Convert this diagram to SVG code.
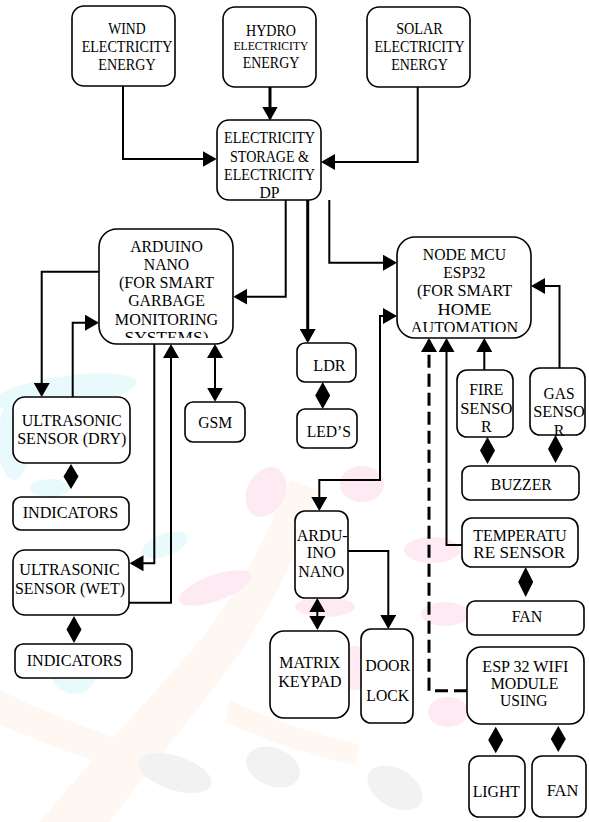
<svg xmlns="http://www.w3.org/2000/svg" width="589" height="822" viewBox="0 0 589 822">
<style>
.box{fill:#fff;stroke:#000;stroke-width:1.6}
.t{font-size:16px;fill:#000;text-anchor:middle}
.c{fill:none;stroke:#000;stroke-width:2}
.k{stroke-width:3}
.d{stroke-dasharray:13 6;stroke-width:3}
.dm{fill:#000}
.wc{fill:#e8fafb}
.wp{fill:#fdeaf2}
.wg{fill:#f2f2f2}
.wo{fill:#fff7f1}
</style>
<defs>
<marker id="ah" viewBox="0 0 14 16" refX="12" refY="8" markerWidth="14" markerHeight="16" markerUnits="userSpaceOnUse" orient="auto"><path d="M0,0 L14,8 L0,16 z" fill="#000"/></marker>
<marker id="as" viewBox="0 0 14 16" refX="12" refY="8" markerWidth="14" markerHeight="16" markerUnits="userSpaceOnUse" orient="auto-start-reverse"><path d="M0,0 L14,8 L0,16 z" fill="#000"/></marker>
<clipPath id="clipA"><rect x="99" y="229" width="134" height="109"/></clipPath>
<clipPath id="clipN"><rect x="397" y="237" width="134" height="95"/></clipPath>
</defs>
<rect width="589" height="822" fill="#fff"/>
<g id="watermark">
<path class="wo" d="M40,822 C90,760 150,700 200,640 C240,590 265,540 290,480 L318,490 C300,550 270,610 235,660 C190,720 140,780 110,822 Z"/>
<path class="wo" d="M0,690 C60,720 120,740 180,760 L175,785 C110,770 50,745 0,725 Z"/>
<path class="wo" d="M230,700 C270,720 320,735 360,745 L355,765 C310,755 265,740 225,722 Z"/>
<ellipse class="wc" cx="65" cy="392" rx="72" ry="16" transform="rotate(-8 65 392)"/>
<ellipse class="wc" cx="14" cy="440" rx="16" ry="40"/>
<ellipse class="wc" cx="50" cy="488" rx="20" ry="9"/>
<ellipse class="wc" cx="165" cy="545" rx="24" ry="11" transform="rotate(-20 165 545)"/>
<ellipse class="wc" cx="74" cy="668" rx="24" ry="26"/>
<ellipse class="wp" cx="266" cy="492" rx="19" ry="26" transform="rotate(25 266 492)"/>
<ellipse class="wp" cx="215" cy="588" rx="38" ry="13" transform="rotate(-20 215 588)"/>
<ellipse class="wp" cx="432" cy="550" rx="28" ry="13"/>
<ellipse class="wp" cx="445" cy="614" rx="24" ry="12"/>
<ellipse class="wp" cx="362" cy="484" rx="22" ry="18"/>
<ellipse class="wp" cx="355" cy="668" rx="14" ry="22"/>
<ellipse class="wp" cx="448" cy="712" rx="20" ry="15"/>
<ellipse class="wp" cx="325" cy="607" rx="30" ry="10"/>
<ellipse class="wg" cx="175" cy="773" rx="38" ry="17" transform="rotate(18 175 773)"/>
<ellipse class="wg" cx="273" cy="767" rx="28" ry="19" transform="rotate(22 273 767)"/>
<ellipse class="wg" cx="395" cy="788" rx="30" ry="19" transform="rotate(30 395 788)"/>
</g>
<g id="connectors">
<path class="c" d="M123,86 V159 H214.7" marker-end="url(#ah)"/>
<path class="c k" d="M270,87 V118.5" marker-end="url(#ah)"/>
<path class="c" d="M417.7,87 V162 H323" marker-end="url(#ah)"/>
<path class="c" d="M285.7,200 V296.7 H235.3" marker-end="url(#ah)"/>
<path class="c k" d="M307.7,200 V341" marker-end="url(#ah)"/>
<path class="c" d="M329.3,200 V262.7 H395" marker-end="url(#ah)"/>
<path class="c" d="M99,271.7 H41.7 V395" marker-end="url(#ah)"/>
<path class="c" d="M72.7,397 V322.7 H97" marker-end="url(#ah)"/>
<path class="c" d="M154.3,344 V563.3 H131.5" marker-end="url(#ah)"/>
<path class="c" d="M129,602.7 H171 V346" marker-end="url(#ah)"/>
<path class="c" d="M215,346 V399.7" marker-start="url(#as)" marker-end="url(#as)"/>
<path class="c" d="M395,316 H380 V480 H319.3 V509" marker-start="url(#as)" marker-end="url(#as)"/>
<path class="c" d="M348,551 H388.3 V627" marker-end="url(#ah)"/>
<path class="c" d="M317.3,600 V628" marker-start="url(#as)" marker-end="url(#as)"/>
<path class="c" d="M559.5,368 V286 H533" marker-end="url(#ah)"/>
<path class="c" d="M484.3,370 V340" marker-end="url(#ah)"/>
<path class="c d" d="M467,690.7 H429 V340" marker-end="url(#ah)"/>
<path class="c" d="M462,545 H446.5 V340" marker-end="url(#ah)"/>
<polygon class="dm" points="71,464 78.5,476.5 71,489 63.5,476.5"/>
<polygon class="dm" points="74,616 81.5,629.5 74,643 66.5,629.5"/>
<polygon class="dm" points="322.7,382 330.2,395.5 322.7,409 315.2,395.5"/>
<polygon class="dm" points="487.5,437 495,450.5 487.5,464 480,450.5"/>
<polygon class="dm" points="555.5,435 563,449 555.5,463 548,449"/>
<polygon class="dm" points="525.7,567 533.2,582 525.7,597 518.2,582"/>
<polygon class="dm" points="495.7,726.7 503.2,740 495.7,753.3 488.2,740"/>
<polygon class="dm" points="558.3,726 565.8,739 558.3,752 550.8,739"/>
</g>
<g font-family="'Times New Roman', 'Liberation Serif', 'DejaVu Serif', serif">
<g id="wind"><rect class="box" x="72" y="6" width="103" height="80" rx="12"/>
<text class="t" x="127" y="33.5" textLength="37.3" lengthAdjust="spacingAndGlyphs">WIND</text>
<text class="t" x="127" y="51.5" textLength="90.7" lengthAdjust="spacingAndGlyphs">ELECTRICITY</text>
<text class="t" x="127" y="69.5" textLength="57.3" lengthAdjust="spacingAndGlyphs">ENERGY</text></g>
<g id="hydro"><rect class="box" x="223" y="7" width="93" height="80" rx="12"/>
<text class="t" x="271" y="35.5" textLength="50" lengthAdjust="spacingAndGlyphs">HYDRO</text>
<text class="t" x="271" y="50.3" style="font-size:12.5px" textLength="75" lengthAdjust="spacingAndGlyphs">ELECTRICITY</text>
<text class="t" x="271" y="67.5" textLength="56.7" lengthAdjust="spacingAndGlyphs">ENERGY</text></g>
<g id="solar"><rect class="box" x="367" y="7" width="103" height="80" rx="12"/>
<text class="t" x="419.5" y="33.5" textLength="46.7" lengthAdjust="spacingAndGlyphs">SOLAR</text>
<text class="t" x="419.5" y="51.5" textLength="90" lengthAdjust="spacingAndGlyphs">ELECTRICITY</text>
<text class="t" x="419.5" y="69.5" textLength="56.7" lengthAdjust="spacingAndGlyphs">ENERGY</text></g>
<g id="storage"><rect class="box" x="217" y="120" width="104" height="80" rx="12"/>
<text class="t" x="269.5" y="142.5" textLength="91" lengthAdjust="spacingAndGlyphs">ELECTRICITY</text>
<text class="t" x="269.5" y="161.5" textLength="79" lengthAdjust="spacingAndGlyphs">STORAGE &amp;</text>
<text class="t" x="269.5" y="179.5" textLength="91" lengthAdjust="spacingAndGlyphs">ELECTRICITY</text>
<text class="t" x="269.5" y="197.5" textLength="20" lengthAdjust="spacingAndGlyphs">DP</text></g>
<g id="arduino"><rect class="box" x="99" y="229" width="134" height="115" rx="18"/>
<g clip-path="url(#clipA)">
<text class="t" x="166.5" y="251.5" textLength="72.7" lengthAdjust="spacingAndGlyphs">ARDUINO</text>
<text class="t" x="166.5" y="269.8" textLength="45.3" lengthAdjust="spacingAndGlyphs">NANO</text>
<text class="t" x="166.5" y="287.8" textLength="95" lengthAdjust="spacingAndGlyphs">(FOR SMART</text>
<text class="t" x="166.5" y="306.2" textLength="76.7" lengthAdjust="spacingAndGlyphs">GARBAGE</text>
<text class="t" x="166.5" y="324.5" textLength="103.3" lengthAdjust="spacingAndGlyphs">MONITORING</text>
<text class="t" x="166.5" y="342.8" textLength="84" lengthAdjust="spacingAndGlyphs">SYSTEMS)</text></g></g>
<g id="nodemcu"><rect class="box" x="397" y="237" width="134" height="101" rx="18"/>
<g clip-path="url(#clipN)">
<text class="t" x="464.5" y="259.5" textLength="83.3" lengthAdjust="spacingAndGlyphs">NODE MCU</text>
<text class="t" x="464.5" y="278.2" textLength="42.3" lengthAdjust="spacingAndGlyphs">ESP32</text>
<text class="t" x="464.5" y="296.2" textLength="95" lengthAdjust="spacingAndGlyphs">(FOR SMART</text>
<text class="t" x="464.5" y="314.5" textLength="54" lengthAdjust="spacingAndGlyphs">HOME</text>
<text class="t" x="464.5" y="333" textLength="107.3" lengthAdjust="spacingAndGlyphs">AUTOMATION</text></g></g>
<g id="ldr"><rect class="box" x="297" y="343" width="59" height="39" rx="8"/>
<text class="t" x="329.5" y="371.2" textLength="32.3" lengthAdjust="spacingAndGlyphs">LDR</text></g>
<g id="leds"><rect class="box" x="297" y="409" width="60" height="39" rx="8"/>
<text class="t" x="328.8" y="436.5" textLength="44.3" lengthAdjust="spacingAndGlyphs">LED’S</text></g>
<g id="gsm"><rect class="box" x="185" y="402" width="60" height="40" rx="8"/>
<text class="t" x="215.3" y="428.2" textLength="34" lengthAdjust="spacingAndGlyphs">GSM</text></g>
<g id="us-dry"><rect class="box" x="13" y="397" width="117" height="66" rx="12"/>
<text class="t" x="71.8" y="425.5" textLength="100" lengthAdjust="spacingAndGlyphs">ULTRASONIC</text>
<text class="t" x="71.8" y="443.8" textLength="109.3" lengthAdjust="spacingAndGlyphs">SENSOR (DRY)</text></g>
<g id="ind1"><rect class="box" x="13" y="497" width="116" height="33" rx="8"/>
<text class="t" x="70.5" y="517.8" textLength="95.7" lengthAdjust="spacingAndGlyphs">INDICATORS</text></g>
<g id="us-wet"><rect class="box" x="13" y="550" width="116" height="65" rx="12"/>
<text class="t" x="69.5" y="574.8" textLength="100.3" lengthAdjust="spacingAndGlyphs">ULTRASONIC</text>
<text class="t" x="70" y="593.8" textLength="110" lengthAdjust="spacingAndGlyphs">SENSOR (WET)</text></g>
<g id="ind2"><rect class="box" x="15" y="644" width="117" height="34" rx="8"/>
<text class="t" x="74.5" y="666.2" textLength="95.7" lengthAdjust="spacingAndGlyphs">INDICATORS</text></g>
<g id="fire"><rect class="box" x="457" y="370" width="56" height="67" rx="10"/>
<text class="t" x="486.3" y="394.8" textLength="34" lengthAdjust="spacingAndGlyphs">FIRE</text>
<text class="t" x="486.3" y="413.8" textLength="52.3" lengthAdjust="spacingAndGlyphs">SENSO</text>
<text class="t" x="486.3" y="432.2">R</text></g>
<g id="gas"><rect class="box" x="530" y="368" width="55" height="67" rx="10"/>
<text class="t" x="559" y="398.8" textLength="31" lengthAdjust="spacingAndGlyphs">GAS</text>
<text class="t" x="559" y="417.2" textLength="51.7" lengthAdjust="spacingAndGlyphs">SENSO</text>
<text class="t" x="559" y="435.5">R</text></g>
<g id="buzzer"><rect class="box" x="462" y="466" width="117" height="34" rx="8"/>
<text class="t" x="521.2" y="489.5" textLength="61" lengthAdjust="spacingAndGlyphs">BUZZER</text></g>
<g id="temp"><rect class="box" x="462" y="518" width="116" height="49" rx="10"/>
<text class="t" x="520" y="540.5" textLength="93.3" lengthAdjust="spacingAndGlyphs">TEMPERATU</text>
<text class="t" x="519.2" y="557.8" textLength="91.7" lengthAdjust="spacingAndGlyphs">RE SENSOR</text></g>
<g id="fan1"><rect class="box" x="467" y="601" width="117" height="34" rx="8"/>
<text class="t" x="527" y="621.5" textLength="30.7" lengthAdjust="spacingAndGlyphs">FAN</text></g>
<g id="ardu2"><rect class="box" x="295" y="511" width="53" height="87" rx="10"/>
<text class="t" x="322.2" y="540.5" textLength="51" lengthAdjust="spacingAndGlyphs">ARDU-</text>
<text class="t" x="321.3" y="557.8" textLength="29" lengthAdjust="spacingAndGlyphs">INO</text>
<text class="t" x="321.3" y="576.5" textLength="46" lengthAdjust="spacingAndGlyphs">NANO</text></g>
<g id="matrix"><rect class="box" x="270" y="631" width="79" height="87" rx="14"/>
<text class="t" x="309.8" y="668.2" textLength="61" lengthAdjust="spacingAndGlyphs">MATRIX</text>
<text class="t" x="309.8" y="687.2" textLength="63.3" lengthAdjust="spacingAndGlyphs">KEYPAD</text></g>
<g id="door"><rect class="box" x="361" y="629" width="52" height="94" rx="10"/>
<text class="t" x="387.7" y="670.5" textLength="45" lengthAdjust="spacingAndGlyphs">DOOR</text>
<text class="t" x="387.7" y="701.2" textLength="42.7" lengthAdjust="spacingAndGlyphs">LOCK</text></g>
<g id="esp"><rect class="box" x="467" y="647" width="117" height="77" rx="14"/>
<text class="t" x="525.3" y="671.5" textLength="86" lengthAdjust="spacingAndGlyphs">ESP 32 WIFI</text>
<text class="t" x="524.5" y="688.8" textLength="67.7" lengthAdjust="spacingAndGlyphs">MODULE</text>
<text class="t" x="523.8" y="706.2" textLength="47.7" lengthAdjust="spacingAndGlyphs">USING</text></g>
<g id="light"><rect class="box" x="469" y="756" width="56" height="61" rx="10"/>
<text class="t" x="496.3" y="796.5" textLength="47.3" lengthAdjust="spacingAndGlyphs">LIGHT</text></g>
<g id="fan2"><rect class="box" x="532" y="756" width="54" height="61" rx="10"/>
<text class="t" x="562.5" y="795.5" textLength="31.7" lengthAdjust="spacingAndGlyphs">FAN</text></g>
</g>
</svg>
